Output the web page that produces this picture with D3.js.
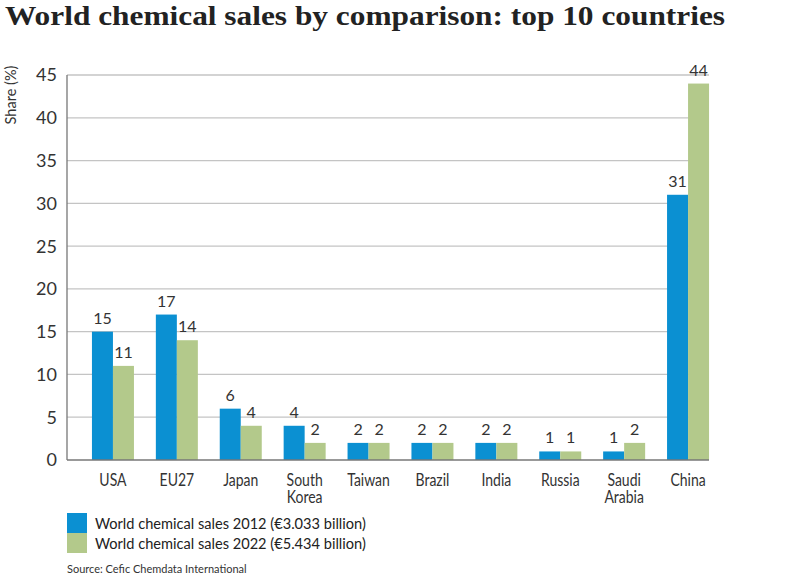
<!DOCTYPE html>
<html>
<head>
<meta charset="utf-8">
<script src="https://cdn.jsdelivr.net/npm/d3@7"></script>
<style>
  body { margin: 0; background: #fff; }
  svg { display: block; }
  text { font-family: Lato, "Open Sans", sans-serif; fill: #333; }
</style>
</head>
<body>
<svg id="chart" width="800" height="576"></svg>
<script>
var countries = ["USA", "EU27", "Japan", "South Korea", "Taiwan", "Brazil", "India", "Russia", "Saudi Arabia", "China"];
var labelLines = [["USA"], ["EU27"], ["Japan"], ["South", "Korea"], ["Taiwan"], ["Brazil"], ["India"], ["Russia"], ["Saudi", "Arabia"], ["China"]];
var sales2012 = [15, 17, 6, 4, 2, 2, 2, 1, 1, 31];
var sales2022 = [11, 14, 4, 2, 2, 2, 2, 1, 2, 44];
var yTicks = [0, 5, 10, 15, 20, 25, 30, 35, 40, 45];
var seriesNames = ["World chemical sales 2012 (\u20ac3.033 billion)", "World chemical sales 2022 (\u20ac5.434 billion)"];
var colors = ["#0b90d2", "#b3c98b"];

function drawChart() {
    var svg = d3.select("#chart");
    var left = 67, right = 709, top = 75, bottom = 460;

    var x = d3.scaleBand().domain(countries).range([81, 720]).padding(0);
    var y = d3.scaleLinear().domain([0, 45]).range([bottom, top]);
    var barW = 21;

    // title
    svg.append("text")
        .attr("x", 5).attr("y", 25)
        .attr("textLength", 720).attr("lengthAdjust", "spacingAndGlyphs")
        .style("font-family", "'Liberation Serif', serif")
        .style("font-weight", "bold")
        .style("font-size", "28px")
        .style("fill", "#222")
        .text("World chemical sales by comparison: top 10 countries");

    // gridlines
    svg.append("g").selectAll("line")
        .data(yTicks.slice(1))
        .enter().append("line")
        .attr("x1", left).attr("x2", right)
        .attr("y1", function(d) { return y(d); })
        .attr("y2", function(d) { return y(d); })
        .attr("stroke", "#c4c4c4").attr("stroke-width", 1.3);

    // y tick labels
    svg.append("g").selectAll("text")
        .data(yTicks)
        .enter().append("text")
        .attr("x", 57)
        .attr("y", function(d) { return y(d); })
        .attr("dy", "0.36em")
        .attr("text-anchor", "end")
        .style("font-size", "18px")
        .text(function(d) { return d; });

    svg.append("text")
        .attr("transform", "translate(16,95) rotate(-90)")
        .attr("text-anchor", "middle")
        .style("font-size", "14.5px")
        .text("Share (%)");

    var values = [sales2012, sales2022];
    values.forEach(function(vals, s) {
        var g = svg.append("g");
        g.selectAll("rect")
            .data(countries)
            .enter().append("rect")
            .attr("x", function(d) { return x(d) + x.bandwidth() / 2 - barW + s * barW; })
            .attr("y", function(d, i) { return y(vals[i]); })
            .attr("width", barW)
            .attr("height", function(d, i) { return bottom - y(vals[i]); })
            .attr("fill", colors[s]);
        g.selectAll("text")
            .data(countries)
            .enter().append("text")
            .attr("x", function(d) { return x(d) + x.bandwidth() / 2 - barW / 2 + s * barW; })
            .attr("y", function(d, i) { return y(vals[i]) - 8; })
            .attr("text-anchor", "middle")
            .style("font-size", "16px")
            .text(function(d, i) { return vals[i]; });
    });

    // axis lines
    svg.append("line")
        .attr("x1", left).attr("x2", left).attr("y1", top).attr("y2", bottom)
        .attr("stroke", "#777").attr("stroke-width", 1.3);
    svg.append("line")
        .attr("x1", left).attr("x2", right).attr("y1", bottom).attr("y2", bottom)
        .attr("stroke", "#777").attr("stroke-width", 1.5);

    // x labels (condensed), one text per line
    var xl = svg.append("g").selectAll("g")
        .data(countries)
        .enter().append("g")
        .attr("transform", function(d) { return "translate(" + (x(d) + x.bandwidth() / 2) + ",486) scale(0.8,1)"; });
    xl.each(function(d, i) {
        var cell = d3.select(this);
        labelLines[i].forEach(function(line, j) {
            cell.append("text")
                .attr("x", 0).attr("y", j * 16.5)
                .attr("text-anchor", "middle")
                .style("font-size", "17.5px")
                .text(line);
        });
    });

    // legend
    var lg = svg.append("g");
    seriesNames.forEach(function(name, i) {
        lg.append("rect")
            .attr("x", 67).attr("y", 513 + i * 20)
            .attr("width", 20).attr("height", 20)
            .attr("fill", colors[i]);
        lg.append("text")
            .attr("x", 95).attr("y", 529 + i * 20)
            .style("font-size", "14.6px")
            .style("fill", "#222")
            .text(name);
    });

    svg.append("text")
        .attr("x", 67).attr("y", 573)
        .style("font-size", "11px")
        .text("Source: Cefic Chemdata International");
}

drawChart();
</script>
</body>
</html>
